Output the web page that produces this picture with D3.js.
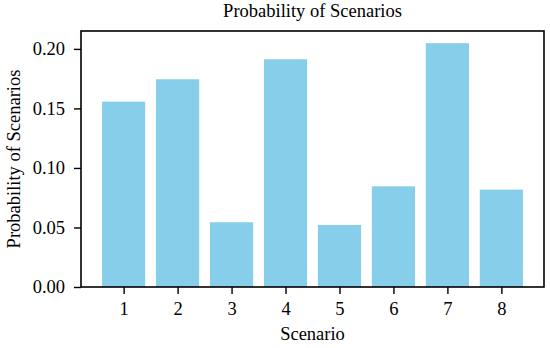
<!DOCTYPE html>
<html>
<head>
<meta charset="utf-8">
<script src="https://cdn.jsdelivr.net/npm/d3@7"></script>
<style>
  body { margin: 0; background: #fff; }
  text { font-family: "Liberation Serif", "Times New Roman", serif; fill: #000; }
</style>
</head>
<body>
<svg width="550" height="348"></svg>
<script>
// scenarios and their probabilities
const scenarios = [1, 2, 3, 4, 5, 6, 7, 8]
const probs = [0.1557, 0.1745, 0.0544, 0.1913, 0.0521, 0.0846, 0.2048, 0.0818]
const yTicks = [0, 0.05, 0.10, 0.15, 0.20]

const Width = 550
const Height = 348
const margin = { left: 81, right: 6, top: 31, bottom: 61 }
const fontSize = 18.5
const serif = '"Liberation Serif", "Times New Roman", serif'

let svg = d3.select('svg').attr('width', Width).attr('height', Height)
let g = svg.append('g')

// matplotlib-like limits: bars 0.8 wide, 5% padding
const barW = 0.8
const xmin = scenarios[0] - barW / 2, xmax = scenarios[scenarios.length - 1] + barW / 2
const xpad = (xmax - xmin) * 0.05
const x = d3.scaleLinear()
  .domain([xmin - xpad, xmax + xpad])
  .range([margin.left, Width - margin.right])
const y = d3.scaleLinear()
  .domain([0, d3.max(probs) * 1.05])
  .range([Height - margin.bottom, margin.top])

// bars
g.selectAll('rect.bar').data(scenarios).enter().append('rect')
  .attr('class', 'bar')
  .attr('x', d => x(d - barW / 2))
  .attr('width', d => x(d + barW / 2) - x(d - barW / 2))
  .attr('y', (d, i) => y(probs[i]))
  .attr('height', (d, i) => y(0) - y(probs[i]))
  .attr('fill', '#87CEEB')

// axes
const xAxis = d3.axisBottom(x).tickValues(scenarios).tickSize(7).tickPadding(8)
const yAxis = d3.axisLeft(y).tickValues(yTicks).tickFormat(d3.format('.2f')).tickSize(7).tickPadding(9)

let gx = g.append('g').attr('transform', `translate(0,${Height - margin.bottom})`).call(xAxis)
let gy = g.append('g').attr('transform', `translate(${margin.left},0)`).call(yAxis)
;[gx, gy].forEach(a => {
  a.attr('font-family', serif).attr('font-size', fontSize)
  a.select('.domain').remove()
  a.selectAll('line').attr('stroke', '#000').attr('stroke-width', 1.4)
  a.selectAll('text').attr('fill', '#000')
})

// frame
g.append('rect')
  .attr('x', margin.left).attr('y', margin.top)
  .attr('width', Width - margin.right - margin.left)
  .attr('height', Height - margin.bottom - margin.top)
  .attr('fill', 'none').attr('stroke', '#000').attr('stroke-width', 1.6)

// labels
const cx = (margin.left + Width - margin.right) / 2
svg.append('text').attr('x', cx).attr('y', 17).attr('text-anchor', 'middle')
  .style('font-size', fontSize + 'px').text('Probability of Scenarios')
svg.append('text').attr('x', cx).attr('y', 340).attr('text-anchor', 'middle')
  .style('font-size', fontSize + 'px').text('Scenario')
svg.append('text')
  .attr('transform', `translate(20,${(margin.top + Height - margin.bottom) / 2}) rotate(-90)`)
  .attr('text-anchor', 'middle')
  .style('font-size', fontSize + 'px').text('Probability of Scenarios')
</script>
</body>
</html>
